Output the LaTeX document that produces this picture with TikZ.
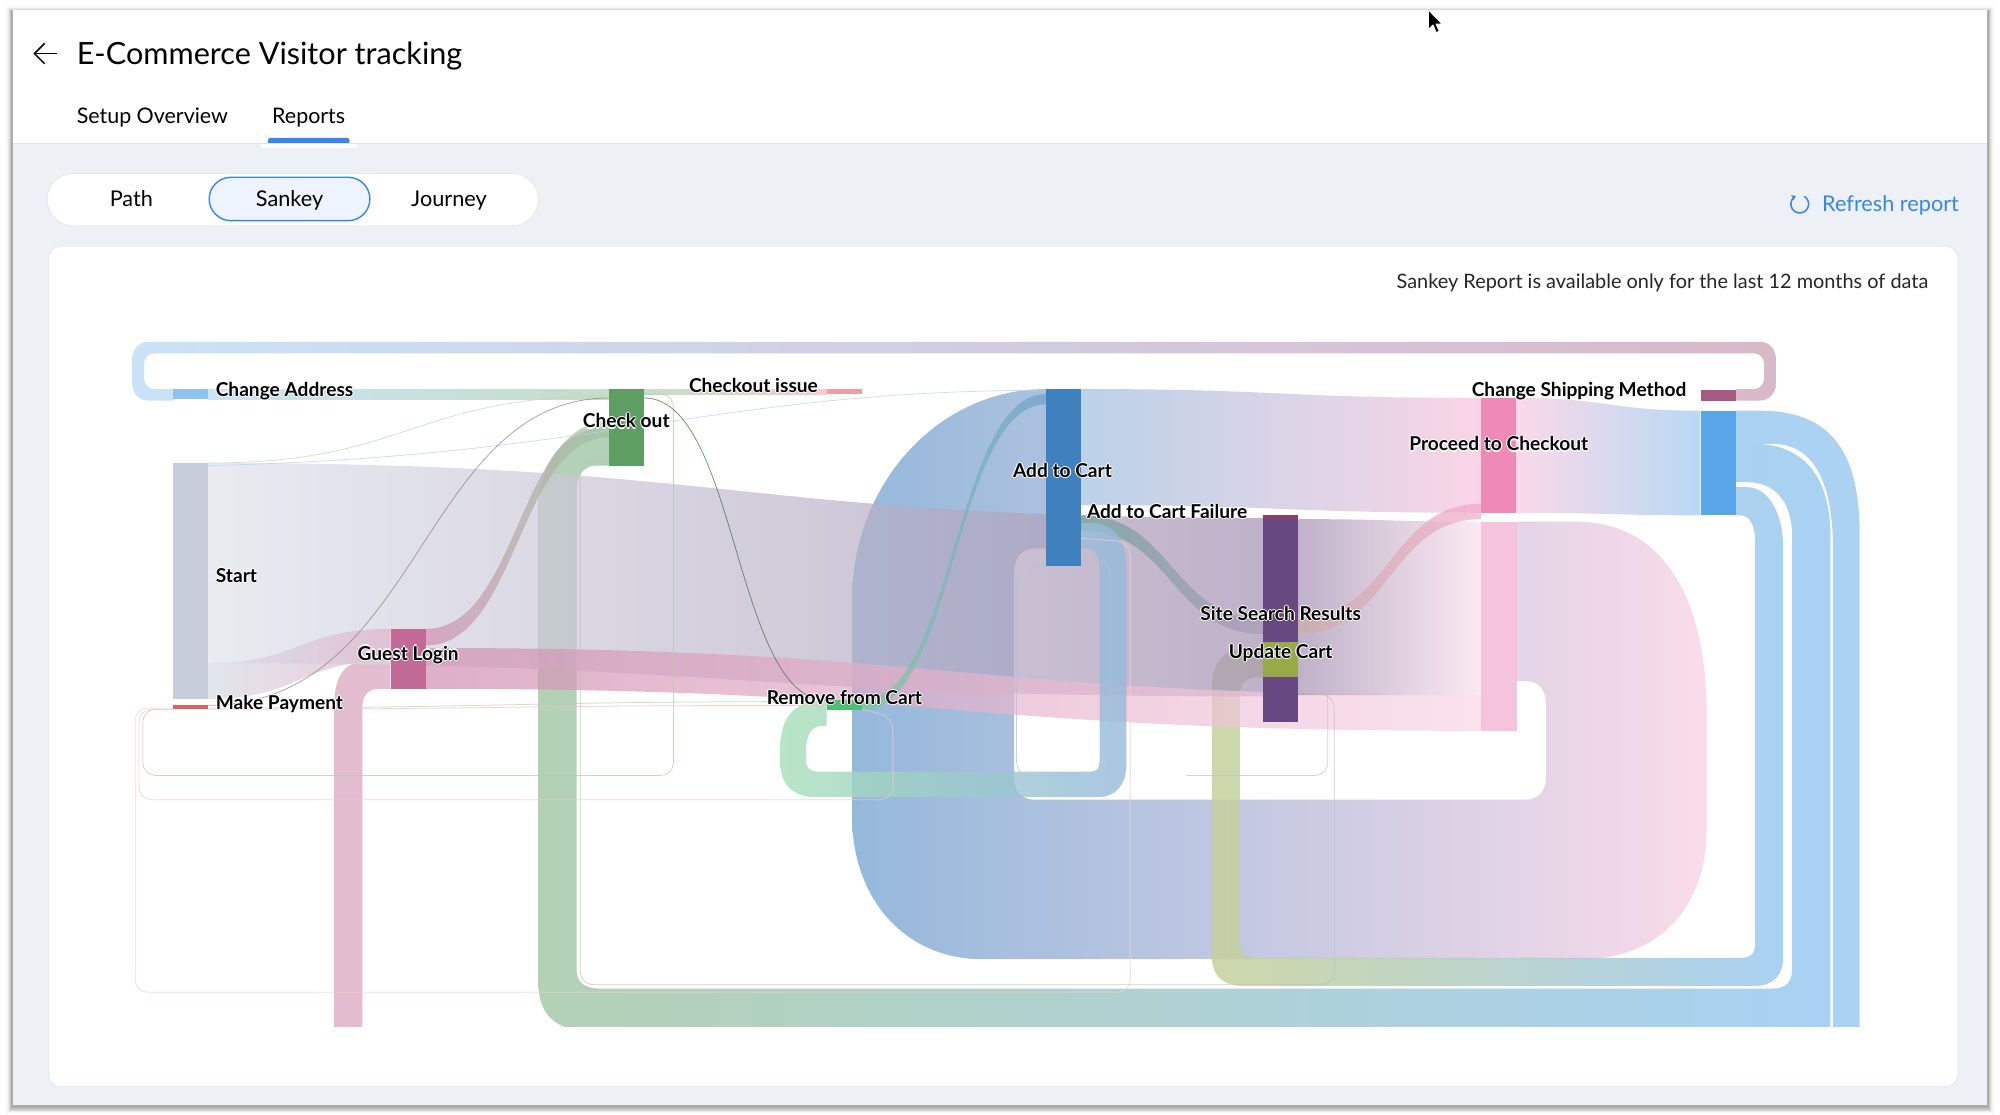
\documentclass[tikz,border=0pt]{standalone}
\usepackage{fontspec}
\setmainfont{Lato}
\usetikzlibrary{positioning,arrows.meta}

\definecolor{pagebg}{HTML}{EDF0F4}
\definecolor{rim}{HTML}{DCE3EC}
\definecolor{accent}{HTML}{3A86E8}
\definecolor{cAddr}{HTML}{8EC3EF}
\definecolor{cStart}{HTML}{C6CDD9}
\definecolor{cPay}{HTML}{E05E5E}
\definecolor{cGuest}{HTML}{C26A96}
\definecolor{cCheck}{HTML}{5E9E62}
\definecolor{cIssue}{HTML}{EE9E9E}
\definecolor{cRemove}{HTML}{4DBF72}
\definecolor{cAdd}{HTML}{3F80BF}
\definecolor{cFail}{HTML}{8E3E62}
\definecolor{cSearch}{HTML}{684880}
\definecolor{cUpdate}{HTML}{97AA48}
\definecolor{cProceed}{HTML}{EF89B8}
\definecolor{cProceedLo}{HTML}{F5B9D6}
\definecolor{cShip}{HTML}{A65A82}
\definecolor{cBlue}{HTML}{58A6E8}

% white rim round the node labels
\newcommand\halo[1]{\rlap{\color{white}\kern-.9pt#1}\rlap{\color{white}\kern.9pt#1}%
  \rlap{\color{white}\raisebox{.9pt}{#1}}\rlap{\color{white}\raisebox{-.9pt}{#1}}#1}
% straight band: x1, top1, bottom1, x2, top2, bottom2, left colour, right colour
\newcommand\band[8]{\shade[link, left color=#7, right color=#8]
  (#1,#2) .. controls ({(#1+#4)/2},#2) and ({(#1+#4)/2},#5) .. (#4,#5) -- (#4,#6)
  .. controls ({(#1+#4)/2},#6) and ({(#1+#4)/2},#3) .. (#1,#3) -- cycle;}

\begin{document}
\begin{tikzpicture}[x=1pt, y=-1pt,
	bar/.style={rectangle, inner sep=0pt, minimum width=27.5pt},
	lbl/.style={inner sep=0pt, font=\bfseries\fontsize{15}{17}\selectfont},
	link/.style={fill opacity=.7},
	thinlink/.style={line width=.6pt, opacity=.75, rounded corners=10pt}]
	\useasboundingbox (0,0) rectangle (1568,874);
	\fill[white] (0,0) rectangle (1568,874);
	
	%window and shadow
	\foreach \d/\o in {5/.03, 4/.05, 3/.07, 2/.09, 1/.13}
		\fill[black, opacity=\o] (10-\d,8-\d+2) rectangle (1558+\d,866+\d+2);
	\fill[pagebg] (10,8) rectangle (1558,866);
	\fill[white] (10,8) rectangle (1558,112);
	\draw[rim] (10,112.5) -- (1558,112.5);
	
	%header
	\draw[line width=1.2pt] (45,42) -- (27,42);
	\draw[line width=1.2pt] (35,34) -- (27,42) -- (35,50);
	\node[anchor=base west, inner sep=0pt, font=\fontsize{24}{27}\selectfont] (title) at (60,50.5) {E-Commerce Visitor tracking};
	\node[anchor=base west, inner sep=0pt, font=\fontsize{16.8}{20}\selectfont] (setup) at (60,97) {Setup Overview};
	\node[anchor=base, inner sep=0pt, font=\fontsize{16.8}{20}\selectfont] (reports) at (242,97) {Reports};
	\fill[accent, rounded corners=2pt] (210,108) rectangle (274,114);
	\fill[white] (205,112.8) rectangle (280,116);
	\draw[rim] (205,112.5) -- (280,112.5);
	\fill[accent] (210,109.5) rectangle (274,112);
	
	%cursor
	\draw[white, fill=black, line width=.6pt, line join=round] (1120,8) -- (1120,23) -- (1123.5,19.5) -- (1126,25.5) -- (1128.3,24.5) -- (1125.8,18.8) -- (1130.5,18.8) -- cycle;
	
	%tabs
	\draw[rim, fill=white, rounded corners=20.5pt] (37,136) rectangle (422,177);
	\draw[accent, line width=1.1pt, fill=accent!9, rounded corners=17pt] (164,139) rectangle (290,173);
	\node[anchor=base, font=\fontsize{17}{20}\selectfont] (path) at (103,162) {Path};
	\node[anchor=base, font=\fontsize{17}{20}\selectfont] (sankey) at (227,162) {Sankey};
	\node[anchor=base, font=\fontsize{17}{20}\selectfont] (journey) at (352,162) {Journey};
	
	%refresh
	\node[anchor=base east, inner sep=0pt, text=accent, font=\fontsize{17}{20}\selectfont] (refresh) at (1536,166) {Refresh report};
	\draw[accent, line width=1.2pt, -{Stealth[length=3.5pt, width=4.5pt]}] (1411,160) ++(-60:7) arc[start angle=-60, end angle=245, radius=7];
	
	%card
	\draw[rim, fill=white, rounded corners=10pt] (38,193) rectangle (1535,852);
	\node[anchor=base east, inner sep=0pt, text=black!85, font=\fontsize{15.6}{18}\selectfont] (note) at (1512,226.5) {Sankey Report is available only for the last 12 months of data};
	
	\begin{scope}
		\clip (38,193) rectangle (1535,805);
		
		%big loop back into add to cart
		\shade[fill opacity=.85, left color=cAdd!65, right color=cProceed!35]
			(1189,409) -- (1235,409) .. controls (1305,409) and (1338,470) .. (1338,560) -- (1338,650)
			.. controls (1338,712) and (1300,752) .. (1240,752) -- (770,752)
			.. controls (710,752) and (668,705) .. (668,640) -- (668,470)
			.. controls (668,380) and (735,305) .. (820,305) -- (820,430) -- (812,430)
			.. controls (800,430) and (795,438) .. (795,450) -- (795,610)
			.. controls (795,620) and (800,627) .. (812,627) -- (1196,627)
			.. controls (1206,627) and (1212,620) .. (1212,610) -- (1212,552)
			.. controls (1212,540) and (1206,534) .. (1196,534) -- (1189,534) -- cycle;
		
		%top loop from change shipping method to change address
		\shade[fill opacity=.85, left color=cAddr!55, right color=cShip!50]
			(136,305) [rounded corners=8pt] -- (113,305) -- (113,277) -- (1383,277) -- (1383,305) [sharp corners] -- (1361,305)
			-- (1361,314) [rounded corners=12pt] -- (1392,314) -- (1392,268) -- (104,268) -- (104,314) [sharp corners] -- (136,314) -- cycle;
		
		%loops from the blue node down the right side
		\shade[fill opacity=.85, left color=cCheck!55, right color=cBlue!60]
			(478,335) .. controls (445,335) and (422,360) .. (422,400) -- (422,770)
			.. controls (422,795) and (435,808) .. (462,808) -- (1435,808) -- (1435,420)
			.. controls (1435,375) and (1415,348) .. (1375,348) -- (1361,348) -- (1361,378) -- (1370,378)
			.. controls (1390,378) and (1405,392) .. (1405,420) -- (1405,760)
			.. controls (1405,770) and (1400,775) .. (1390,775) -- (470,775)
			.. controls (458,775) and (452,770) .. (452,760) -- (452,385)
			.. controls (452,372) and (458,365) .. (468,365) -- (478,365) -- cycle;
		\shade[fill opacity=.85, left color=cUpdate!55, right color=cBlue!60]
			(990,509) -- (976,509) .. controls (958,509) and (950,520) .. (950,540) -- (950,748)
			.. controls (950,765) and (958,773) .. (976,773) -- (1375,773)
			.. controls (1390,773) and (1398,765) .. (1398,750) -- (1398,430)
			.. controls (1398,400) and (1385,382) .. (1370,382) -- (1361,382) -- (1361,404) -- (1364,404)
			.. controls (1371,404) and (1376,410) .. (1376,425) -- (1376,740)
			.. controls (1376,748) and (1372,751) .. (1365,751) -- (985,751)
			.. controls (977,751) and (972,747) .. (972,740) -- (972,545)
			.. controls (972,535) and (978,531) .. (985,531) -- (990,531) -- cycle;
		\fill[cBlue!55, fill opacity=.9]
			(1361,322) -- (1380,322) .. controls (1440,322) and (1458,360) .. (1458,420) -- (1458,830) -- (1437,830) -- (1437,430)
			.. controls (1437,375) and (1420,348) .. (1390,348) -- (1361,348) -- cycle;
		
		%guest login loop going down
		\fill[cGuest!50, fill opacity=.9]
			(306,518) -- (290,518) .. controls (268,518) and (262,532) .. (262,555) -- (262,830) -- (284,830) -- (284,555)
			.. controls (284,545) and (289,540) .. (297,540) -- (306,540) -- cycle;
		
		%links
		\band{163}{305}{313}{478}{305}{313}{cAddr!65}{cCheck!50}
		\band{505}{305}{309}{648}{305}{309}{cCheck!50}{cIssue!75}
		\band{163}{363}{520}{990}{406}{546}{cStart!55}{cSearch!60}
		\band{163}{520}{548}{306}{493}{518}{cStart!70}{cGuest!50}
		\band{334}{493}{506}{478}{330}{343}{cGuest!75}{cCheck!60}
		\band{334}{508}{540}{1161}{545}{573}{cGuest!75}{cProceed!35}
		\band{1018}{407}{545}{1161}{409}{545}{cSearch!60}{cProceed!25}
		\band{848}{305}{396}{1161}{312}{402}{cAdd!50}{cProceed!50}
		\band{1189}{312}{402}{1333}{322}{404}{cProceed!45}{cBlue!60}
		\band{848}{404}{416}{990}{485}{497}{cAdd!40!cCheck!85}{cSearch!55}
		\band{1018}{485}{497}{1161}{395}{407}{cUpdate!40!cGuest!65}{cProceed!75}
		\band{676}{549}{557}{820}{309}{317}{cRemove!75}{cAdd!75}
		\shade[fill opacity=.8, left color=cRemove!50, right color=cAdd!55]
			(848,410) -- (855,410) .. controls (875,410) and (883,425) .. (883,445) -- (883,600)
			.. controls (883,615) and (875,625) .. (860,625) -- (640,625)
			.. controls (622,625) and (612,615) .. (612,600) -- (612,585)
			.. controls (612,560) and (625,549) .. (648,549) -- (648,569) -- (645,569)
			.. controls (637,569) and (632,575) .. (632,588) -- (632,597)
			.. controls (632,603) and (636,605) .. (642,605) -- (855,605)
			.. controls (860,605) and (862,602) .. (862,597) -- (862,445)
			.. controls (862,435) and (858,430) .. (850,430) -- (848,430) -- cycle;
		\fill[cProceedLo, fill opacity=.85] (1161,409) rectangle (1189,573);
		
		%thin links
		\draw[thinlink, cCheck!50] (505,309) -- (528,309) -- (528,608) -- (112,608) -- (112,556) -- (136,556);
		\draw[thinlink, cPay!35] (136,556) -- (109,556) -- (109,627) -- (700,627) -- (700,562) -- (676,556);
		\draw[thinlink, cPay!30] (136,555) -- (106,555) -- (106,778) -- (886,778) -- (886,425) -- (848,422);
		\draw[thinlink, black!25] (478,362) -- (455,362) -- (455,772) -- (1046,772) -- (1046,545) -- (1018,543);
		\draw[thinlink, cAdd!45] (848,440) -- (870,440) -- (870,608) -- (797,608) -- (797,446) -- (820,444);
		\draw[thinlink, cSearch!35] (1018,540) -- (1041,540) -- (1041,608) -- (930,608);
		\draw[thinlink, cCheck!40] (163,363) .. controls (320,363) and (320,312) .. (478,310);
		\draw[thinlink, cAdd!35] (163,365) .. controls (470,358) and (560,306) .. (820,306);
		\draw[thinlink, cGuest!50!cCheck] (163,553) .. controls (330,553) and (330,312) .. (478,312);
		\draw[thinlink, cCheck!70!black] (505,312) .. controls (578,312) and (576,549) .. (648,549);
		\draw[thinlink, cCheck!45] (163,555) .. controls (400,555) and (400,550) .. (648,550);
		\draw[thinlink, cPay!40] (163,556) .. controls (400,556) and (400,553) .. (648,553);
	\end{scope}
	
	%nodes
	\node[bar, fill=cAddr, minimum height=8pt] (chgaddr) at (149.5,309) {};
	\node[bar, fill=cStart, minimum height=185pt] (start) at (149.5,455.5) {};
	\node[bar, fill=cPay, minimum height=3pt] (makepay) at (149.5,554.5) {};
	\node[bar, fill=cGuest, minimum height=47pt] (guest) at (320,516.5) {};
	\node[bar, fill=cCheck, minimum height=60pt] (checkout) at (491.5,335) {};
	\node[bar, fill=cIssue, minimum height=4pt] (coissue) at (662,307) {};
	\node[bar, fill=cRemove, minimum height=8pt] (remcart) at (662,553) {};
	\node[bar, fill=cAdd, minimum height=139pt] (addcart) at (834,374.5) {};
	\node[bar, fill=cFail, minimum height=3pt] (failure) at (1004,405.5) {};
	\node[bar, fill=cSearch, minimum height=159pt] (search) at (1004,486.5) {};
	\node[bar, fill=cUpdate, minimum height=28pt] (update) at (1004,517) {};
	\node[bar, fill=cProceed, minimum height=90pt] (proceed) at (1175,357) {};
	\node[bar, fill=cShip, minimum height=8pt] (ship) at (1347,310) {};
	\node[bar, fill=cBlue, minimum height=82pt] (bluenode) at (1347,363) {};
	
	%labels
	\node[lbl, anchor=base west] at (169,310.5) {\halo{Change Address}};
	\node[lbl, anchor=base west] at (540,307.5) {\halo{Checkout issue}};
	\node[lbl, anchor=base] at (491,335.5) {\halo{Check out}};
	\node[lbl, anchor=base west] at (169,456.5) {\halo{Start}};
	\node[lbl, anchor=base] at (320,517.5) {\halo{Guest Login}};
	\node[lbl, anchor=base west] at (169,556.5) {\halo{Make Payment}};
	\node[lbl, anchor=base] at (662,552.5) {\halo{Remove from Cart}};
	\node[lbl, anchor=base] at (833,374.5) {\halo{Add to Cart}};
	\node[lbl, anchor=base west] at (852,406.5) {\halo{Add to Cart Failure}};
	\node[lbl, anchor=base] at (1004,486.5) {\halo{Site Search Results}};
	\node[lbl, anchor=base] at (1004,516.5) {\halo{Update Cart}};
	\node[lbl, anchor=base] at (1175,353.5) {\halo{Proceed to Checkout}};
	\node[lbl, anchor=base] at (1238,310.5) {\halo{Change Shipping Method}};
\end{tikzpicture}
\end{document}
